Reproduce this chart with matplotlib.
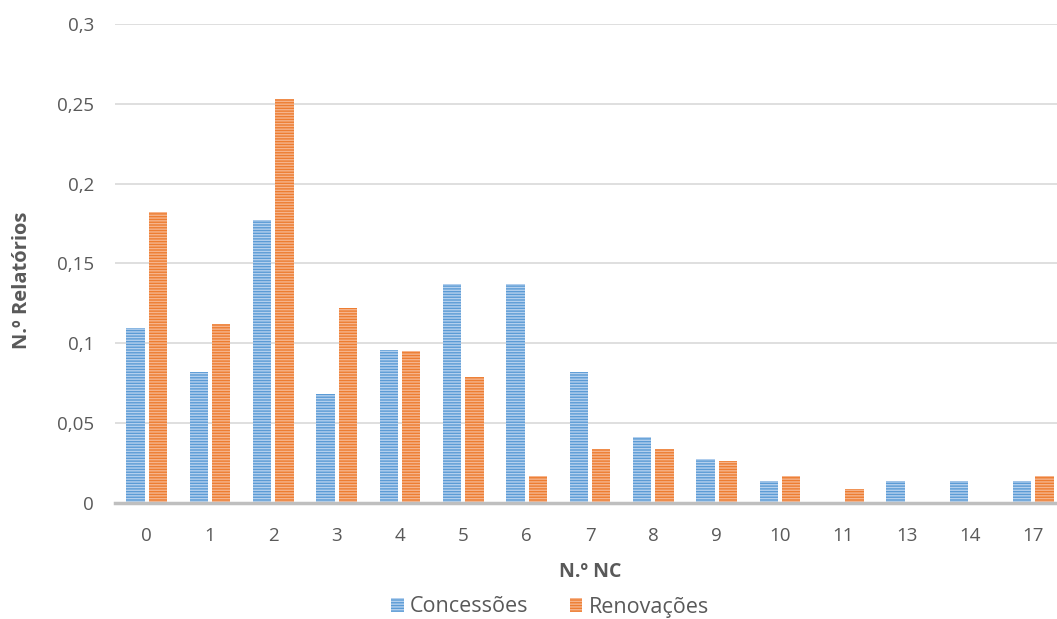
import matplotlib
matplotlib.use("Agg")
import matplotlib.pyplot as plt
import numpy as np
from matplotlib.ticker import FuncFormatter, MultipleLocator

plt.rcParams['font.family'] = ['Open Sans', 'DejaVu Sans']
plt.rcParams['hatch.linewidth'] = 1.0

categories = ['0', '1', '2', '3', '4', '5', '6', '7', '8', '9', '10', '11', '13', '14', '17']
concessoes = [0.1096, 0.0822, 0.1770, 0.0685, 0.0959, 0.1370, 0.1370, 0.0822, 0.0411,
              0.0274, 0.0137, 0.0, 0.0137, 0.0137, 0.0137]
renovacoes = [0.182, 0.112, 0.253, 0.122, 0.095, 0.079, 0.017, 0.034, 0.034,
              0.026, 0.017, 0.0085, 0.0, 0.0, 0.017]

blue = '#5b9bd5'
orange = '#ed7d31'
text_col = '#595959'

W, H = 1057, 619
fig = plt.figure(figsize=(W / 100, H / 100), dpi=100)
# axes spans slightly past the right edge of the figure
ax = fig.add_axes([115 / W, 1 - 503 / H, 950 / W, 479 / H])

x = np.arange(len(categories))
w = 0.29
off = 0.175
ax.bar(x - off, concessoes, w, color=blue, edgecolor='#b4d0ee', linewidth=0,
       hatch='------', label='Concessões', zorder=3)
ax.bar(x + off, renovacoes, w, color=orange, edgecolor='#f6b48c', linewidth=0,
       hatch='------', label='Renovações', zorder=3)

ax.set_xlim(-0.5, len(categories) - 0.5)
ax.set_ylim(0, 0.3)
ax.yaxis.set_major_locator(MultipleLocator(0.05))
ax.yaxis.set_major_formatter(FuncFormatter(lambda v, p: ('%g' % round(v, 3)).replace('.', ',')))
ax.set_xticks(x)
ax.set_xticklabels(categories)

ax.grid(axis='y', color='#d9d9d9', linewidth=1.2, zorder=0)
for s in ['top', 'right', 'left']:
    ax.spines[s].set_visible(False)
ax.spines['bottom'].set_color('#bfbfbf')
ax.spines['bottom'].set_linewidth(2.5)
ax.spines['bottom'].set_zorder(4)
ax.tick_params(axis='both', length=0, labelsize=13.5, colors=text_col)
ax.tick_params(axis='y', pad=15)
ax.tick_params(axis='x', pad=17)

ax.set_xlabel('N.º NC', fontsize=14, fontweight='bold', color=text_col)
ax.xaxis.set_label_coords(475 / 950, -59 / 479)
ax.set_ylabel('N.º Relatórios', fontsize=14.5, fontweight='bold', color=text_col)
ax.yaxis.set_label_coords(-83 / 950, 223 / 479)

ax.legend(loc='center', bbox_to_anchor=(435 / 950, -104 / 479), ncol=2, frameon=False,
          fontsize=15.5, handlelength=0.6, handleheight=0.6, handletextpad=0.3,
          columnspacing=1.9, labelcolor=text_col)

fig.savefig('out.png', dpi=100)
